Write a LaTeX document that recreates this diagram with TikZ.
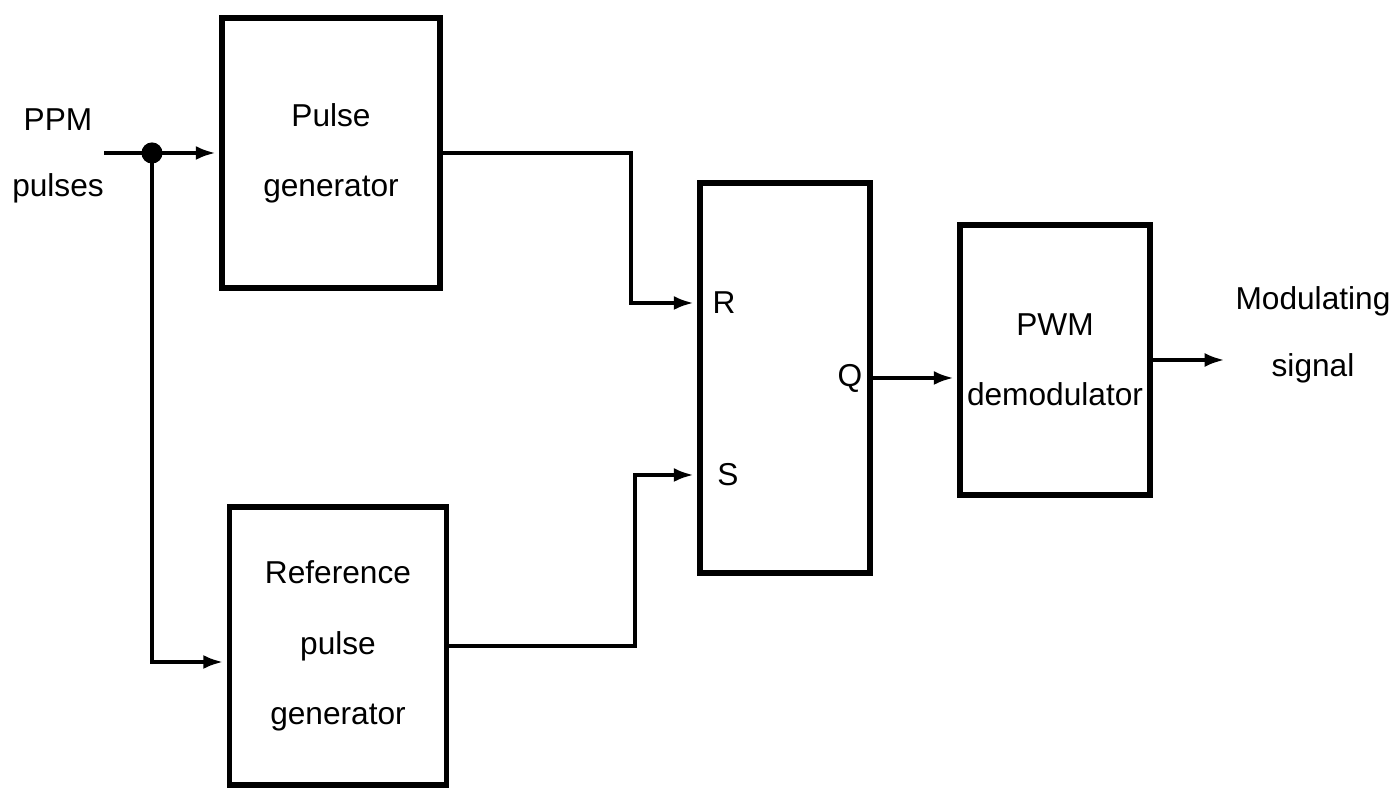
\documentclass[tikz,border=0pt]{standalone}
\usepackage{fontspec}
\setmainfont{Liberation Sans}
\usetikzlibrary{arrows.meta,positioning}

\begin{document}
\begin{tikzpicture}[>={Latex[length=2mm,width=1.4mm]},x=0.01cm,y=-0.01cm]
  \tikzstyle{block}=[draw,line width=1.5pt,align=center,inner xsep=1pt,font=\fontsize{9}{20}\selectfont]
  \tikzstyle{lbl}=[align=center,font=\fontsize{9}{19}\selectfont]
  \tikzstyle{wire}=[line width=1.1pt,->,shorten >=1pt]
  \useasboundingbox (0,0) rectangle (1393,795);
  % blocks
  \node[block,minimum width=2.18cm,minimum height=2.7cm] (pgen) at (331,153) {Pulse\\generator};
  \node[block,minimum width=2.17cm,minimum height=2.78cm] (rgen) at (338,646) {Reference\\pulse\\generator};
  \node[block,minimum width=1.7cm,minimum height=3.9cm] (ff) at (785,378) {};
  \node[block,minimum width=1.9cm,minimum height=2.7cm] (pwm) at (1055,360) {PWM\\demodulator};
  % flip-flop pins
  \node[lbl] (rin) at (724,303) {R};
  \node[lbl] (sin) at (728,475) {S};
  \node[lbl] (qout) at (850,378) {Q};
  % terminals
  \node[lbl] (ppm) at (58,156) {PPM\\pulses};
  \node[lbl] (msig) at (1313,335) {Modulating\\signal};
  \coordinate (j) at (152,153);
  \fill (j) circle (3pt);
  % connectors
  \draw[wire] ([xshift=-0.12cm]ppm.east |- pgen) -- (pgen.west);
  \draw[wire] (j) |- ([yshift=-0.16cm]rgen.west);
  \draw[wire] (pgen.east) -- ++(188,0) |- (ff.west |- rin);
  \draw[wire] (rgen.east) -- ++(186,0) |- (ff.west |- sin);
  \draw[wire] (ff.east |- qout) -- (pwm.west |- qout);
  \draw[wire] (pwm.east) -- ([xshift=0.05cm]pwm.east -| msig.west);
\end{tikzpicture}
\end{document}
